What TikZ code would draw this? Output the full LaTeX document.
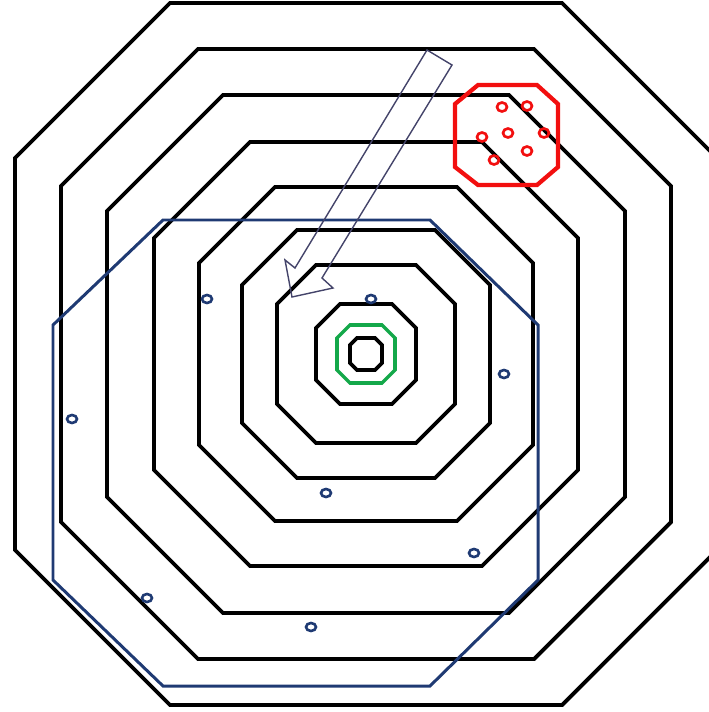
\documentclass[tikz,border=0pt]{standalone}
\usepackage{tikz}
\usetikzlibrary{calc}

\definecolor{navy}{HTML}{1F3A73}
\definecolor{hitred}{HTML}{F20F0F}
\definecolor{hitgreen}{HTML}{14A84A}
\definecolor{arrowgray}{HTML}{44446A}

\begin{document}
\begin{tikzpicture}[x=0.01cm, y=-0.01cm,
                    ring/.style={draw=black, line width=1.1pt},
                    spread/.style={draw=navy, line width=0.85pt},
                    cluster/.style={draw=hitred, line width=1.2pt},
                    bull/.style={draw=hitgreen, line width=1pt},
                    shot/.style={draw=navy, line width=0.75pt},
                    hit/.style={draw=hitred, line width=0.75pt},
                    aim/.style={draw=arrowgray, line width=0.4pt, line join=miter}]
        \useasboundingbox (0,0) rectangle (709,712);
        \clip (0,0) rectangle (709,712);
        \coordinate (c) at (366,354);
        % target rings: apothem / half side
        \foreach \a/\s in {351/196, 305/168, 259/143, 212/116, 167/91, 124/69, 89/50, 50/26, 16/9}
            \draw[ring, shift={(c)}] (-\s,-\a) -- (\s,-\a) -- (\a,-\s) -- (\a,\s) -- (\s,\a) -- (-\s,\a) -- (-\a,\s) -- (-\a,-\s) -- cycle;
        \draw[bull, shift={(c)}] (-16,-29) -- (16,-29) -- (29,-16) -- (29,16) -- (16,29) -- (-16,29) -- (-29,16) -- (-29,-16) -- cycle;
        % wide group
        \draw[spread] (163,220) -- (430,220) -- (538,325) -- (538,580) -- (430,686) -- (163,686) -- (53,580) -- (53,325) -- cycle;
        \foreach \p in {(207,299), (371,299), (504,374), (72,419), (326,493), (474,553), (147,598), (311,627)}
            \draw[shot] \p ellipse (5 and 4);
        % tight group
        \draw[cluster] (478,85) -- (537,85) -- (558,104) -- (558,167) -- (537,185) -- (478,185) -- (455,167) -- (455,104) -- cycle;
        \foreach \p in {(502,107), (527,106), (482,137), (508,133), (544,133), (527,151), (494,160)}
            \draw[hit] \p ellipse (5 and 4.5);
        % shift of the group
        \draw[aim] (427,50) -- (452,65) -- (322,278) -- (333,288) -- (292,297) -- (285,260) -- (295,268) -- cycle;
    \end{tikzpicture}
\end{document}
